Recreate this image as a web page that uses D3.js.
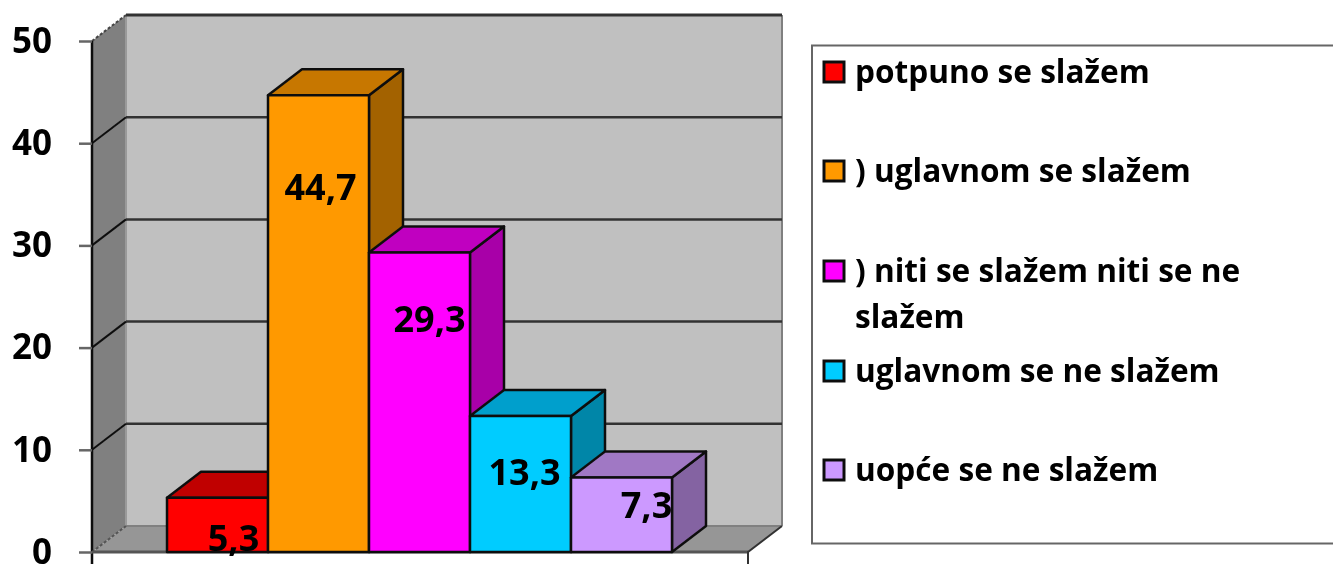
<!DOCTYPE html>
<html><head><meta charset="utf-8">
<script src="https://cdn.jsdelivr.net/npm/d3@7/dist/d3.min.js"></script>
<style>html,body{margin:0;background:#fff;overflow:hidden}text{font-family:"Open Sans",sans-serif;font-weight:700;fill:#000}</style>
</head><body><svg id="c" width="1333" height="564"></svg>
<script>
const categories = ["potpuno se slažem", ") uglavnom se slažem", ") niti se slažem niti se ne slažem", "uglavnom se ne slažem", "uopće se ne slažem"];
const values = [5.3, 44.7, 29.3, 13.3, 7.3];
const valueLabels = ["5,3", "44,7", "29,3", "13,3", "7,3"];
const frontColors = ["#ff0000", "#ff9900", "#ff00ff", "#00ccff", "#cc99ff"];
const topColors = ["#c00000", "#c77700", "#c000c0", "#009fcc", "#a078c4"];
const sideColors = ["#a00000", "#a36200", "#a800a8", "#0086a8", "#8464a2"];
const yTicks = [0, 10, 20, 30, 40, 50];

const svg = d3.select("#c");
const defs = svg.append("defs");
defs.append("filter").attr("id","soft").append("feGaussianBlur").attr("stdDeviation",0.6);
const g = svg.append("g").attr("filter","url(#soft)");

const DX = 34, DY = -26;
const plotL = 92, plotR = 748;
const y = d3.scaleLinear().domain([0,50]).range([552,41]);
const x = d3.scaleBand().domain(categories).range([167,672]).padding(0);
const pts = a => a.map(p=>p.join(",")).join(" ");

// walls
g.append("polygon").attr("points",pts([[plotL+DX,y(50)+DY],[plotR+DX,y(50)+DY],[plotR+DX,y(0)+DY],[plotL+DX,y(0)+DY]])).attr("fill","#c0c0c0");
g.append("polygon").attr("points",pts([[plotL,y(50)],[plotL+DX,y(50)+DY],[plotL+DX,y(0)+DY],[plotL,y(0)]])).attr("fill","#808080");
g.append("polygon").attr("points",pts([[plotL,y(0)],[plotL+DX,y(0)+DY],[plotR+DX,y(0)+DY],[plotR,y(0)]])).attr("fill","#969696");
g.append("path").attr("d",`M${plotR+DX},${y(50)+DY}V${y(0)+DY}`).attr("stroke","#808080").attr("stroke-width",2);
g.append("path").attr("d",`M${plotL+DX},${y(50)+DY}V${y(0)+DY}`).attr("stroke","#9a9a9a").attr("stroke-width",2);
g.append("path").attr("d",`M${plotL+DX},${y(0)+DY}H${plotR+DX}`).attr("stroke","#808080").attr("stroke-width",2);

// gridlines
yTicks.filter(t=>t>0).forEach(t=>{
  g.append("path").attr("d",`M${plotL+DX},${y(t)+DY}H${plotR+DX}`).attr("stroke","#333").attr("stroke-width",t===50?3:2.5);
  g.append("path").attr("d",`M${plotL},${y(t)}L${plotL+DX},${y(t)+DY}`).attr("stroke",t===50?"#444":"#111").attr("stroke-width",2).attr("stroke-dasharray",t===50?"3 2":null);
});
g.append("path").attr("d",`M${plotL},${y(0)}L${plotL+DX},${y(0)+DY}`).attr("stroke","#555").attr("stroke-width",2).attr("stroke-dasharray","3 2");

// axis lines
g.append("path").attr("d",`M${plotL},${y(50)}V564`).attr("stroke","#111").attr("stroke-width",2.5).attr("fill","none");
g.append("path").attr("d",`M${plotL},${y(0)}H${plotR}`).attr("stroke","#555").attr("stroke-width",3);
g.append("path").attr("d",`M${plotR},564V${y(0)}L${plotR+DX},${y(0)+DY}`).attr("stroke","#333").attr("stroke-width",2).attr("fill","none");

const axis = g.append("g").attr("transform",`translate(${plotL},0)`)
  .call(d3.axisLeft(y).tickValues(yTicks).tickSize(13).tickPadding(1).tickFormat(d3.format("d")));
axis.select(".domain").remove();
axis.selectAll("line").attr("stroke","#666").attr("stroke-width",2.5);
axis.selectAll("text").attr("x",-40).attr("font-size",35).style("font-family",'"Open Sans",sans-serif').style("font-weight",700).attr("fill","#000");

// bars
const B = y(0);
const barStroke = {stroke:"#111","stroke-width":2.5,"stroke-linejoin":"round"};
g.selectAll("g.bar").data(categories).join("g").attr("class","bar").each(function(d,i){
  const b=d3.select(this), l=x(d), r=x(d)+x.bandwidth(), t=y(values[i]);
  const f=(p,c)=>{const s=b.append("polygon").attr("points",pts(p)).attr("fill",c);Object.entries(barStroke).forEach(([k,v])=>s.attr(k,v));};
  f([[r,B],[r+DX,B+DY],[r+DX,t+DY],[r,t]],sideColors[i]);
  f([[l,t],[l+DX,t+DY],[r+DX,t+DY],[r,t]],topColors[i]);
  f([[l,t],[r,t],[r,B],[l,B]],frontColors[i]);
});

// value labels: offset from each bar's centre and from its top
const labelDx = [16, 2, 10, 4, 25];
const labelDy = [40, 92, 66, 56, 28];
g.selectAll("text.v").data(valueLabels).join("text").attr("class","v")
  .attr("x",(d,i)=>x(categories[i])+x.bandwidth()/2+labelDx[i])
  .attr("y",(d,i)=>y(values[i])+labelDy[i])
  .attr("dy","0.36em").attr("text-anchor","middle").attr("font-size",36).text(d=>d);

// legend
g.append("rect").attr("x",812).attr("y",45.5).attr("width",560).attr("height",498).attr("fill","#fff").attr("stroke","#666").attr("stroke-width",2);
const legendY = [72, 171, 271, 371, 470];
const legendLines = [["potpuno se slažem"],[") uglavnom se slažem"],[") niti se slažem niti se ne","slažem"],["uglavnom se ne slažem"],["uopće se ne slažem"]];
const lg = g.selectAll("g.lg").data(categories).join("g").attr("class","lg").attr("transform",(d,i)=>`translate(0,${legendY[i]})`);
lg.append("rect").attr("x",824).attr("y",-10).attr("width",20).attr("height",20).attr("fill",(d,i)=>frontColors[i]).attr("stroke","#111").attr("stroke-width",3);
lg.each(function(d,i){
  legendLines[i].forEach((s,j)=>d3.select(this).append("text").attr("x",855).attr("y",j*46).attr("dy","0.36em").attr("font-size",31.6).text(s));
});
</script></body></html>
